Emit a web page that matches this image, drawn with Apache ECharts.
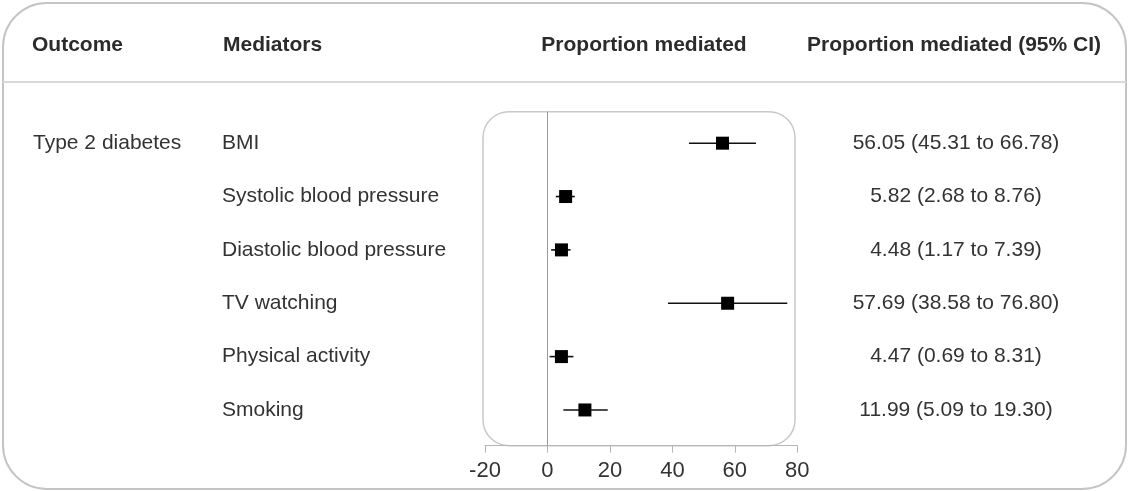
<!DOCTYPE html>
<html>
<head>
<meta charset="utf-8">
<script src="https://cdn.jsdelivr.net/npm/echarts@6/dist/echarts.min.js"></script>
<style>
  html, body { margin: 0; padding: 0; background: #fff; }
  #chart { width: 1129px; height: 491px; }
</style>
</head>
<body>
<div id="chart"></div>
<script>
// 数据
var outcome = 'Type 2 diabetes';
var mediators = ['BMI', 'Systolic blood pressure', 'Diastolic blood pressure', 'TV watching', 'Physical activity', 'Smoking'];
var estimate = [56.05, 5.82, 4.48, 57.69, 4.47, 11.99];
var lower = [45.31, 2.68, 1.17, 38.58, 0.69, 5.09];
var upper = [66.78, 8.76, 7.39, 76.80, 8.31, 19.30];
var xTicks = [-20, 0, 20, 40, 60, 80];

var font = '"Liberation Sans", Arial, sans-serif';
var rows = mediators.map(function (m, i) { return i; });

function ciText(i) {
    return estimate[i].toFixed(2) + ' (' + lower[i].toFixed(2) + ' to ' + upper[i].toFixed(2) + ')';
}

var chart = echarts.init(document.getElementById('chart'));

var option = {
    backgroundColor: '#fff',
    animation: false,
    textStyle: { fontFamily: font },
    grid: { left: 485, right: 331.7, top: 111.7, bottom: 45.3 },
    xAxis: {
        type: 'value',
        min: xTicks[0],
        max: xTicks[xTicks.length - 1],
        interval: 20,
        splitLine: { show: false },
        axisLine: { onZero: false, lineStyle: { color: '#b5b5b5', width: 1 } },
        axisTick: { show: true, length: 7, lineStyle: { color: '#b5b5b5' } },
        axisLabel: { fontSize: 22, color: '#333', margin: 14, fontFamily: font }
    },
    yAxis: [
        {
            // 左侧：结局 + 中介变量
            type: 'value',
            position: 'left',
            inverse: true,
            min: -0.59,
            max: 5.67,
            splitLine: { show: false },
            axisLine: { show: false, onZero: false },
            axisTick: { show: false },
            axisLabel: {
                customValues: rows,
                align: 'left',
                margin: 452,
                fontSize: 21,
                color: '#333',
                formatter: function (v) {
                    var o = v === 0 ? outcome : '';
                    return '{o|' + o + '}{m|' + mediators[v] + '}';
                },
                rich: {
                    o: { width: 189, fontSize: 21, color: '#333', fontFamily: font },
                    m: { fontSize: 21, color: '#333', fontFamily: font }
                }
            }
        },
        {
            // 右侧：比例 (95% CI)
            type: 'value',
            position: 'right',
            inverse: true,
            min: -0.59,
            max: 5.67,
            splitLine: { show: false },
            axisLine: { show: false, onZero: false },
            axisTick: { show: false },
            axisLabel: {
                customValues: rows,
                align: 'center',
                margin: 158.7,
                fontSize: 21,
                color: '#333',
                fontFamily: font,
                formatter: function (v) { return ciText(v); }
            }
        }
    ],
    graphic: [
        {
            type: 'rect', z: -10, silent: true,
            shape: { x: 3, y: 3, width: 1123, height: 486, r: 44 },
            style: { fill: 'none', stroke: '#c4c4c4', lineWidth: 2 }
        },
        {
            type: 'line', z: -10, silent: true,
            shape: { x1: 3, y1: 82, x2: 1126, y2: 82 },
            style: { stroke: '#d9d9d9', lineWidth: 2 }
        },
        {
            type: 'rect', z: -5, silent: true,
            shape: { x: 483, y: 111.7, width: 312, height: 334, r: 26 },
            style: { fill: 'none', stroke: '#c8c8c8', lineWidth: 1.5 }
        },
        {
            type: 'text', x: 32, y: 45, silent: true,
            style: { text: 'Outcome', font: 'bold 21px ' + font, fill: '#2b2b2b', align: 'left', verticalAlign: 'middle' }
        },
        {
            type: 'text', x: 223, y: 45, silent: true,
            style: { text: 'Mediators', font: 'bold 21px ' + font, fill: '#2b2b2b', align: 'left', verticalAlign: 'middle' }
        },
        {
            type: 'text', x: 644, y: 45, silent: true,
            style: { text: 'Proportion mediated', font: 'bold 21px ' + font, fill: '#2b2b2b', align: 'center', verticalAlign: 'middle' }
        },
        {
            type: 'text', x: 954, y: 45, silent: true,
            style: { text: 'Proportion mediated (95% CI)', font: 'bold 21px ' + font, fill: '#2b2b2b', align: 'center', verticalAlign: 'middle' }
        }
    ],
    series: [
        {
            name: 'CI',
            type: 'custom',
            silent: true,
            clip: false,
            data: rows.map(function (i) { return [lower[i], upper[i], i]; }),
            renderItem: function (params, api) {
                var a = api.coord([api.value(0), api.value(2)]);
                var b = api.coord([api.value(1), api.value(2)]);
                return {
                    type: 'line',
                    shape: { x1: a[0], y1: a[1], x2: b[0], y2: b[1] },
                    style: { stroke: '#111', lineWidth: 1.6 }
                };
            },
            markLine: {
                silent: true,
                symbol: 'none',
                label: { show: false },
                lineStyle: { color: '#9a9a9a', width: 1, type: 'solid' },
                data: [{ xAxis: 0 }]
            }
        },
        {
            name: 'Estimate',
            type: 'scatter',
            silent: true,
            symbol: 'rect',
            symbolSize: 13,
            itemStyle: { color: '#000', opacity: 1 },
            data: rows.map(function (i) { return [estimate[i], i]; })
        }
    ]
};

chart.setOption(option);
</script>
</body>
</html>
